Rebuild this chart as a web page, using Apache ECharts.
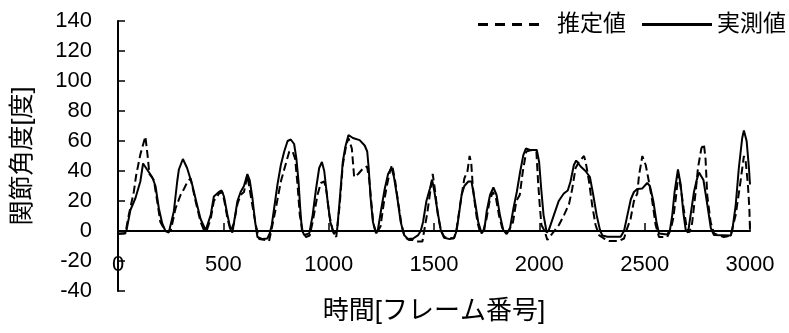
<!DOCTYPE html>
<html><head><meta charset="utf-8">
<script src="https://cdn.jsdelivr.net/npm/echarts@6/dist/echarts.min.js"></script>
<style>html,body{margin:0;padding:0;background:#fff}#c{width:789px;height:333px}</style>
</head><body><div id="c"></div>
<script>
const seriesNames = ['推定値', '実測値'];
const xAxisName = '時間[フレーム番号]';
const yAxisName = '関節角度[度]';
const xMin = 0, xMax = 3000, xStep = 500;
const yMin = -40, yMax = 140, yStep = 20;

const actualFrames = [0,30,40,45,59,83,106,119,138,162,178,194,210,225,241,249,265,281,289,308,328,352,376,392,416,424,440,455,479,492,503,519,535,543,551,567,582,598,614,625,638,651,662,686,709,720,730,746,757,773,789,805,820,836,847,857,865,873,884,908,924,940,955,968,979,995,1008,1025,1040,1052,1067,1079,1094,1115,1147,1171,1183,1190,1199,1210,1226,1234,1250,1266,1282,1298,1310,1326,1342,1358,1377,1401,1425,1437,1448,1464,1480,1491,1501,1517,1532,1548,1575,1596,1607,1618,1631,1644,1663,1678,1694,1710,1726,1739,1750,1766,1782,1797,1813,1829,1845,1861,1877,1893,1909,1924,1936,1956,1988,1999,2009,2020,2035,2045,2069,2092,2116,2135,2148,2164,2175,2196,2219,2240,2256,2272,2288,2299,2323,2386,2402,2418,2434,2449,2465,2489,2512,2525,2541,2556,2568,2607,2620,2631,2642,2658,2671,2683,2695,2706,2718,2734,2747,2758,2779,2798,2814,2829,2909,2916,2932,2947,2963,2971,2984,2995,3000];
const actualValues = [-2,-1.5,0,4,14,22,33,45,41,36,30,15,5,0,-1,0,13,33,41,48,42,31,17,8,0.5,0.5,10.6,23,26,27,23,11,0.6,-1,6,20,26,30,38,34,22,6,-4,-5.4,-5,-1.6,4,20,31,44,53,60,61,58,48,33,15,0.6,-2.7,-1.6,10.6,28,42,46,40,20,6,-2,0.6,20,46,56,64,62,60.6,57,53,42,22,6,-1.6,1,15,28,38,42,36,22,6,-2.7,-5.4,-5,-2.7,0,6,20,28,34,27,13,0.6,-4.5,-5.4,-4.5,0,10.6,24,30,33,33,20,6,-1.6,1,13,24,29,24,10.6,0.6,-2,2,15,26,39.5,50.6,55,54,54,46,28,10.6,-1,0.6,10.6,20,25,27,33,44,47,43,40,36,24,10.6,0.6,-3,-3.8,-3.8,0,10.6,21,26,28,28.4,32,30,20,6,-1.6,-2.3,0.6,10.6,26,41,31,13,0.6,-1,10.6,26,34,39,34,17,2,-2.7,-3,0.6,17,42,62,67,60,42,31];

const estFrames = [0,35,51,75,86,106,130,140,149,170,186,201,225,250,273,297,313,330,345,368,392,408,420,440,455,480,495,505,520,535,550,567,582,598,614,638,654,670,701,717,725,749,773,797,813,829,841,852,863,876,892,910,924,947,963,979,990,1003,1020,1036,1052,1067,1083,1094,1110,1121,1140,1165,1182,1192,1202,1212,1225,1246,1261,1276,1291,1301,1314,1331,1346,1361,1381,1400,1416,1445,1452,1468,1484,1494,1504,1519,1534,1549,1594,1606,1614,1629,1644,1659,1669,1677,1684,1694,1706,1719,1734,1749,1764,1779,1794,1809,1824,1839,1855,1875,1891,1907,1922,1938,1962,1986,1994,2002,2010,2025,2038,2062,2093,2117,2141,2156,2172,2188,2212,2220,2236,2251,2267,2283,2307,2330,2378,2402,2414,2433,2449,2465,2473,2489,2497,2505,2520,2536,2552,2568,2607,2623,2635,2648,2660,2670,2685,2700,2712,2725,2742,2753,2769,2781,2789,2797,2813,2829,2876,2908,2932,2955,2971,2979,2990,2997,3000];
const estValues = [-1.6,-1.6,10.6,26,37,51,63,51,38,34,20,6,0,0,15,24,28,33,35,20,6,0.6,0,8,20,25,26,20,8,0,5,18,24,26,37,17,4,-5.4,-6,-6.7,-1.6,15,33,45,53,53,48,31,10.6,0,-4,-3,6,24,32,33,26,10.6,0,-4,17,44,57,62,55,36,38,42,43,35,20,5,-2,3,18,30,40,44,35,18,4,-4,-6,-6,-7,-7,-1,12,28,38,28,10,0,-4,-5,0,8,22,35,40,50,45,30,18,6,-1,0,8,20,26,22,10,2,-1,0,6,20,24,40,53,54,53,33,17,4,0,-6,-1.6,4,10.6,18,28,42,46,50,46,33,17,4,-2.7,-5,-6.7,-6.7,-5,0.6,8,20,25,37,50,50,44,33,20,4,-4,-4,0.6,8,22,38,30,15,2,-1,5,26,42,55,58,48,24,6,-1.6,-4,-3,10.6,33,50,47,31,15,0];

const FONT = '"Liberation Sans", "Noto Sans CJK JP", sans-serif';
const pairs = (xs, ys) => xs.map((x, i) => [x, ys[i]]);
const hiddenSymbol = {color: 'rgba(0,0,0,0)', borderColor: 'rgba(0,0,0,0)', borderWidth: 0};

const chart = echarts.init(document.getElementById('c'), null, {renderer: 'canvas'});
chart.setOption({
  backgroundColor: '#fff',
  animation: false,
  textStyle: {fontFamily: FONT, color: '#000'},
  grid: {left: 118, right: 39, top: 21, bottom: 42, containLabel: false, outerBoundsMode: 'none'},
  legend: [
    {data: [seriesNames[0]], right: 163, top: 13, padding: 0, itemWidth: 62, itemHeight: 14,
     itemStyle: hiddenSymbol,
     lineStyle: {type: [10, 7], width: 3, color: '#000'},
     textStyle: {fontSize: 23, color: '#000', fontFamily: FONT, padding: [0, 0, 0, 12]}},
    {data: [seriesNames[1]], right: 3, top: 13, padding: 0, itemWidth: 70, itemHeight: 14,
     itemStyle: hiddenSymbol,
     lineStyle: {width: 3, color: '#000'},
     textStyle: {fontSize: 23, color: '#000', fontFamily: FONT}}
  ],
  xAxis: {
    type: 'value', min: xMin, max: xMax, interval: xStep,
    name: xAxisName, nameLocation: 'middle', nameGap: 8,
    nameTextStyle: {fontSize: 26, color: '#000', fontFamily: FONT},
    axisLine: {onZero: true, lineStyle: {color: '#000', width: 2}},
    axisTick: {show: true, inside: true, length: 8, lineStyle: {color: '#000', width: 1.5}},
    axisLabel: {fontSize: 22, color: '#000', margin: -37, fontFamily: FONT, formatter: v => String(v)},
    splitLine: {show: false}
  },
  yAxis: {
    type: 'value', min: yMin, max: yMax, interval: yStep,
    name: yAxisName, nameLocation: 'middle', nameGap: 82, nameRotate: 90,
    nameTextStyle: {fontSize: 25, color: '#000', fontFamily: FONT},
    axisLine: {show: true, lineStyle: {color: '#000', width: 2}},
    axisTick: {show: true, inside: true, length: 7, lineStyle: {color: '#000', width: 1.5}},
    axisLabel: {fontSize: 22, color: '#000', margin: 26, fontFamily: FONT, formatter: v => String(v)},
    splitLine: {show: false}
  },
  series: [
    {name: seriesNames[0], type: 'line', data: pairs(estFrames, estValues), showSymbol: false, symbol: 'none',
     lineStyle: {color: '#000', width: 2, type: [8, 4]}, itemStyle: {color: '#000'}, z: 2},
    {name: seriesNames[1], type: 'line', data: pairs(actualFrames, actualValues), showSymbol: false, symbol: 'none',
     lineStyle: {color: '#000', width: 2}, itemStyle: {color: '#000'}, z: 3}
  ]
});
</script></body></html>
